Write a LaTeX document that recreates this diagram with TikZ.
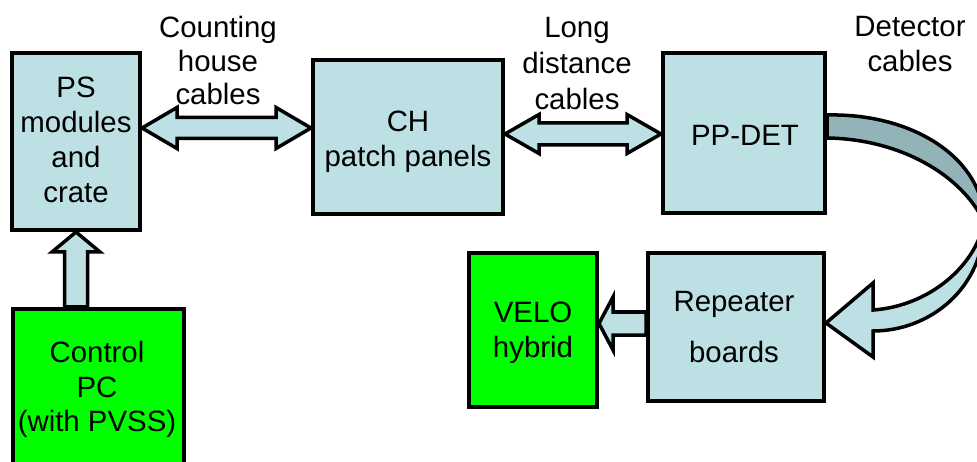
\documentclass[tikz,border=0pt]{standalone}
\usepackage{fontspec}
\setmainfont{Liberation Sans}
\usetikzlibrary{calc}

\definecolor{boxblue}{RGB}{189,224,228}
\definecolor{bandgrey}{RGB}{146,180,184}
\definecolor{pcgreen}{RGB}{0,255,0}

% centred stack of lines whose baseline is that of the first line
\newcommand{\stacklines}[1]{\begin{tabular}[t]{@{}c@{}}#1\end{tabular}}

% horizontal two-headed block arrow: start tip, end tip, shaft half width, head half width, head length
\newcommand{\dblarrow}[5]{%
  \draw[blockarrow] (#1) -- ++(#5,-#4) -- ++(0,#4-#3) -- ($(#2)+(-#5,-#3)$)
    -- ++(0,#3-#4) -- (#2) -- ++(-#5,#4) -- ++(0,#3-#4)
    -- ($(#1)+(#5,#3)$) -- ++(0,#4-#3) -- cycle;}

% block arrow pointing up: tip, tail, shaft half width, head half width, head length
\newcommand{\uparrowshape}[5]{%
  \draw[blockarrow] (#1) -- ++(#4,#5) -- ++(#3-#4,0) -- ($(#2)+(#3,0)$)
    -- ++(-2*#3,0) -- ($(#1)+(-#3,#5)$) -- ++(#3-#4,0) -- cycle;}

% block arrow pointing left: tip, tail, shaft half width, head half width, head length
\newcommand{\leftarrowshape}[5]{%
  \draw[blockarrow] (#1) -- ++(#5,-#4) -- ++(0,#4-#3) -- ($(#2)+(0,-#3)$)
    -- ++(0,2*#3) -- ($(#1)+(#5,#3)$) -- ++(0,#4-#3) -- cycle;}

\begin{document}
\begin{tikzpicture}[x=1pt,y=-1pt,
  box/.style={draw=black,line width=4pt,fill=boxblue,rectangle,inner sep=0pt,line join=miter},
  greenbox/.style={box,fill=pcgreen},
  blockarrow/.style={draw=black,line width=3.5pt,fill=boxblue,line join=miter},
  txt/.style={inner sep=0pt,anchor=base,font=\fontsize{29.4}{35}\selectfont}]

\useasboundingbox (0,0) rectangle (977,462);
\clip (0,0) rectangle (977,462);

% boxes (placed first so the arrows can refer to them)
\node[box,minimum width=128,minimum height=177] (ps) at (76,141.5) {};
\node[box,minimum width=190,minimum height=154] (ch) at (408,137) {};
\node[box,minimum width=162,minimum height=160] (ppdet) at (744,133) {};
\node[box,minimum width=176,minimum height=148] (rep) at (736,327) {};
\node[greenbox,minimum width=128,minimum height=154] (velo) at (533,330) {};
\node[greenbox,minimum width=171,minimum height=163] (ctrl) at (98.5,390.5) {};

% connecting arrows
\dblarrow{ps.east |- 0,128}{ch.west |- 0,128}{10.5}{20.5}{35}
\dblarrow{ch.east |- 0,134}{ppdet.west |- 0,134}{11}{19.5}{34}
\uparrowshape{ps.south}{ctrl.north -| ps.south}{11.5}{24}{20}
\leftarrowshape{velo.east |- 0,323.5}{rep.west |- 0,323.5}{11.5}{26.5}{14}

% detector cables: ribbon arrow curling from PP-DET round to the repeater boards
\coordinate (cstart) at (ppdet.east |- 0,126.5);
\coordinate (ctip) at (rep.east |- 0,323);
\draw[blockarrow] (984,222) .. controls (984,288) and (930,331) .. (873,331)
  -- (873,357) -- (ctip) -- (873,283) -- (873,310)
  .. controls (930,306) and (976,265) .. (984,222) -- cycle;
\draw[blockarrow,fill=bandgrey] ($(cstart)+(0,-11.5)$) .. controls (915,113) and (984,160) .. (984,222)
  .. controls (962,175) and (900,139) .. ($(cstart)+(0,11.5)$) -- cycle;

% redraw the box outlines over the arrow ends
\foreach \b in {ps,ch,ppdet,rep,velo,ctrl}
  \draw[line width=4pt,line join=miter] (\b.south west) ++(2,-2) rectangle ($(\b.north east)+(-2,2)$);

% labels
\node[txt] (pstext) at (76,98) {\stacklines{PS\\modules\\and\\crate}};
\node[txt] (chtext) at (408,132) {\stacklines{CH\\patch panels}};
\node[txt] (ppdettext) at (745,146) {PP-DET};
\node[txt] (reptext) at (734,312) {\stacklines{Repeater\\[16pt]boards}};
\node[txt] (velotext) at (533,323) {\stacklines{VELO\\hybrid}};
\node[txt] (ctrltext) at (97,362) {\stacklines{Control\\PC\\(with PVSS)}};
\node[txt,font=\fontsize{29.4}{33.5}\selectfont] (chcables) at (218,38) {\stacklines{Counting\\house\\cables}};
\node[txt,font=\fontsize{29.4}{36}\selectfont] (ldcables) at (577,38) {\stacklines{Long\\distance\\cables}};
\node[txt] (detcables) at (910,37) {\stacklines{Detector\\cables}};
\end{tikzpicture}
\end{document}
